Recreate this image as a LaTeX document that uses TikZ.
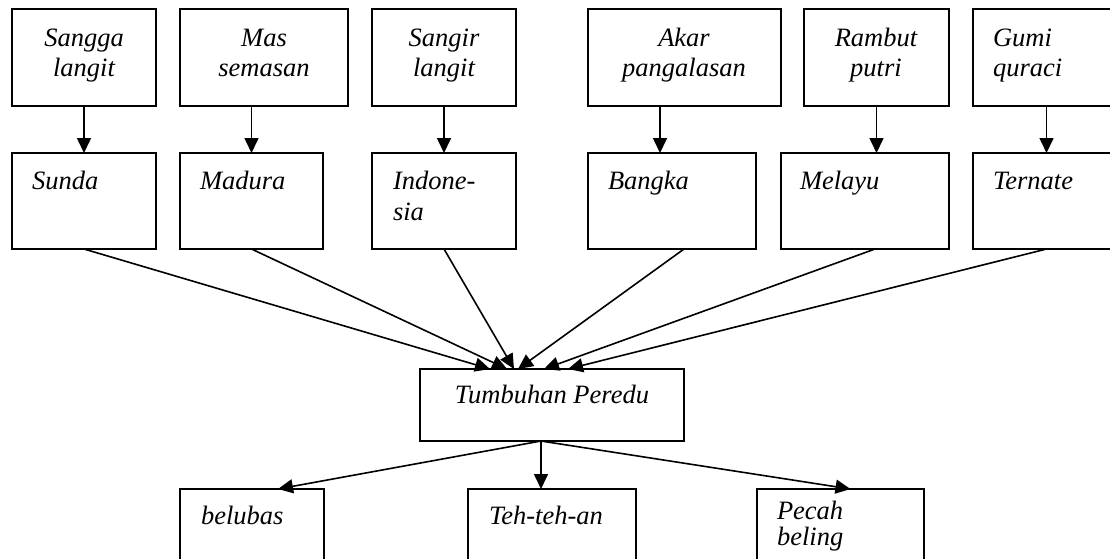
\documentclass[tikz,border=0pt]{standalone}
\usepackage{fontspec}
\setmainfont{Liberation Serif}
\usetikzlibrary{arrows.meta}
\tikzset{
  box/.style={draw, line width=1.7pt, inner sep=0pt, outer sep=0pt},
  lbl/.style={inner sep=0pt, outer sep=0pt, font=\fontsize{26.5}{30}\selectfont\itshape},
  arr/.style={line width=1.6pt, -{Triangle[length=15pt,width=14pt]}},
}
\begin{document}
\begin{tikzpicture}[x=1pt,y=-1pt]
\clip (0,0) rectangle (1110,558);
\fill[white] (0,0) rectangle (1110,558);

% plant names
\node[box, minimum width=144pt, minimum height=97pt] (sangga) at (84,57.5) {};
\node[box, minimum width=168pt, minimum height=97pt] (mas)    at (264,57.5) {};
\node[box, minimum width=144pt, minimum height=97pt] (sangir) at (444,57.5) {};
\node[box, minimum width=193pt, minimum height=97pt] (akar)   at (684.5,57.5) {};
\node[box, minimum width=145pt, minimum height=97pt] (rambut) at (876.5,57.5) {};
\node[box, minimum width=147pt, minimum height=97pt] (gumi)   at (1046.5,57.5) {};

% regions
\node[box, minimum width=144pt, minimum height=96pt] (sunda)     at (84,201) {};
\node[box, minimum width=143pt, minimum height=96pt] (madura)    at (251.5,201) {};
\node[box, minimum width=144pt, minimum height=96pt] (indonesia) at (444,201) {};
\node[box, minimum width=168pt, minimum height=96pt] (bangka)    at (672,201) {};
\node[box, minimum width=168pt, minimum height=96pt] (melayu)    at (865,201) {};
\node[box, minimum width=147pt, minimum height=96pt] (ternate)   at (1046.5,201) {};

% centre
\node[box, minimum width=264pt, minimum height=72pt] (mid) at (552,405) {};

% lower row
\node[box, minimum width=144pt, minimum height=100pt] (belubas) at (252,539) {};
\node[box, minimum width=168pt, minimum height=100pt] (teh)     at (552,539) {};
\node[box, minimum width=167pt, minimum height=100pt] (pecah)   at (840.5,539) {};

% labels
\node[lbl, anchor=base] at (84,46) {Sangga};
\node[lbl, anchor=base] at (84,76) {langit};
\node[lbl, anchor=base] at (264,46) {Mas};
\node[lbl, anchor=base] at (264,76) {semasan};
\node[lbl, anchor=base] at (444,46) {Sangir};
\node[lbl, anchor=base] at (444,76) {langit};
\node[lbl, anchor=base] at (684,46) {Akar};
\node[lbl, anchor=base] at (684,76) {pangalasan};
\node[lbl, anchor=base] at (876,46) {Rambut};
\node[lbl, anchor=base] at (876,76) {putri};
\node[lbl, anchor=base west] at (993,46) {Gumi};
\node[lbl, anchor=base west] at (993,76) {quraci};

\node[lbl, anchor=base west] at (32,189) {Sunda};
\node[lbl, anchor=base west] at (200,189) {Madura};
\node[lbl, anchor=base west] at (393,189) {Indone-};
\node[lbl, anchor=base west] at (393,220) {sia};
\node[lbl, anchor=base west] at (608,189) {Bangka};
\node[lbl, anchor=base west] at (800,189) {Melayu};
\node[lbl, anchor=base west] at (993,189) {Ternate};

\node[lbl, anchor=base] at (552,403) {Tumbuhan Peredu};

\node[lbl, anchor=base west] at (201,524) {belubas};
\node[lbl, anchor=base west] at (489,524) {Teh-teh-an};
\node[lbl, anchor=base west] at (777,519) {Pecah};
\node[lbl, anchor=base west] at (777,545) {beling};

% plant name -> region
\draw[arr] (sangga.south) -- (sunda.north);
\draw[arr] (mas.south -| madura.north) -- (madura.north);
\draw[arr] (sangir.south) -- (indonesia.north);
\draw[arr] ([xshift=-24.5pt]akar.south) -- ([xshift=-12pt]bangka.north);
\draw[arr] (rambut.south) -- (rambut.south |- melayu.north);
\draw[arr] (gumi.south) -- (ternate.north);

% regions -> centre
\draw[arr] (sunda.south) -- ([xshift=-62pt]mid.north);
\draw[arr] (madura.south) -- ([xshift=-45pt]mid.north);
\draw[arr] (indonesia.south) -- ([xshift=-38pt]mid.north);
\draw[arr] ([xshift=12pt]bangka.south) -- ([xshift=-34pt]mid.north);
\draw[arr] ([xshift=10pt]melayu.south) -- ([xshift=-8pt]mid.north);
\draw[arr] (ternate.south) -- ([xshift=16pt]mid.north);

% centre -> lower row
\draw[arr] ([xshift=-11pt]mid.south) -- ([xshift=26pt]belubas.north);
\draw[arr] ([xshift=-11pt]mid.south) -- ([xshift=-11pt]teh.north);
\draw[arr] ([xshift=-11pt]mid.south) -- ([xshift=10pt]pecah.north);
\end{tikzpicture}
\end{document}
